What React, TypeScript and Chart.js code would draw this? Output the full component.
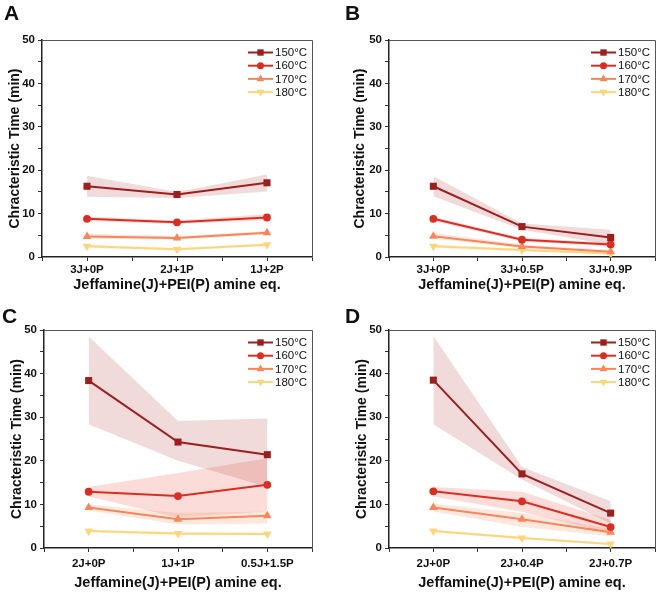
import React, { useEffect, useRef } from 'react';
import { Chart, registerables } from 'chart.js';
import { drawPoint } from 'chart.js/helpers';
Chart.register(...registerables);

const FONT = '"Liberation Sans", Arial, sans-serif';
const SERIES_LABELS = ['150°C', '160°C', '170°C', '180°C'];
const SERIES_COLORS = ['#9c1f1f', '#dc2d22', '#f7865a', '#fdd67c'];
const BAND_COLORS = ['rgba(170,50,50,0.18)', 'rgba(235,80,60,0.2)', 'rgba(250,140,90,0.2)', 'rgba(253,210,110,0.28)'];
const POINT_STYLES = ['rect', 'circle', 'triangle', 'triangle'];
const POINT_RADII = [5, 3.9, 5, 5];
const POINT_ROTATIONS = [0, 0, 0, 180];
const Y_TITLE = 'Chracteristic Time (min)';
const X_TITLE = 'Jeffamine(J)+PEI(P) amine eq.';

// Panel A
const A_CATEGORIES = ['3J+0P', '2J+1P', '1J+2P'];
const A_150 = [16.3, 14.4, 17.1];
const A_150_HI = [18.7, 15.0, 19.0];
const A_150_LO = [13.9, 13.6, 15.1];
const A_160 = [8.8, 8.0, 9.1];
const A_160_HI = [9.3, 8.4, 9.9];
const A_160_LO = [8.3, 7.6, 8.5];
const A_170 = [4.7, 4.4, 5.6];
const A_170_HI = [5.4, 4.8, 6.0];
const A_170_LO = [4.2, 4.0, 5.2];
const A_180 = [2.5, 1.8, 2.8];
const A_180_HI = [2.9, 2.1, 3.1];
const A_180_LO = [2.1, 1.5, 2.5];

// Panel B
const B_CATEGORIES = ['3J+0P', '3J+0.5P', '3J+0.9P'];
const B_150 = [16.3, 7.0, 4.5];
const B_150_HI = [18.6, 7.7, 6.3];
const B_150_LO = [14.0, 6.3, 2.8];
const B_160 = [8.8, 4.0, 2.9];
const B_160_HI = [9.3, 4.4, 3.3];
const B_160_LO = [8.3, 3.6, 2.4];
const B_170 = [4.8, 2.4, 1.2];
const B_170_HI = [5.6, 2.9, 1.6];
const B_170_LO = [4.2, 2.0, 0.8];
const B_180 = [2.5, 1.6, 0.8];
const B_180_HI = [2.9, 1.9, 1.0];
const B_180_LO = [2.1, 1.3, 0.6];

// Panel C
const C_CATEGORIES = ['2J+0P', '1J+1P', '0.5J+1.5P'];
const C_150 = [38.4, 24.3, 21.4];
const C_150_HI = [48.5, 29.1, 29.7];
const C_150_LO = [28.4, 20.0, 14.0];
const C_160 = [12.9, 11.9, 14.5];
const C_160_HI = [14.0, 17.2, 20.6];
const C_160_LO = [11.8, 7.0, 8.4];
const C_170 = [9.3, 6.6, 7.4];
const C_170_HI = [10.0, 8.0, 8.4];
const C_170_LO = [8.6, 5.4, 5.6];
const C_180 = [3.9, 3.3, 3.2];
const C_180_HI = [4.2, 3.6, 3.5];
const C_180_LO = [3.6, 3.0, 2.9];

// Panel D
const D_CATEGORIES = ['2J+0P', '2J+0.4P', '2J+0.7P'];
const D_150 = [38.5, 17.0, 8.0];
const D_150_HI = [48.6, 18.6, 10.7];
const D_150_LO = [28.4, 15.7, 5.6];
const D_160 = [13.0, 10.7, 4.8];
const D_160_HI = [14.0, 12.9, 6.4];
const D_160_LO = [11.8, 8.3, 3.3];
const D_170 = [9.3, 6.6, 3.6];
const D_170_HI = [10.2, 8.0, 4.4];
const D_170_LO = [8.4, 4.8, 2.7];
const D_180 = [3.9, 2.3, 0.9];
const D_180_HI = [4.2, 2.6, 1.1];
const D_180_LO = [3.6, 2.0, 0.7];

type Series = { mean: number[]; hi: number[]; lo: number[] };

const PANELS = [
  {
    letter: 'A', cats: A_CATEGORIES,
    series: [
      { mean: A_150, hi: A_150_HI, lo: A_150_LO },
      { mean: A_160, hi: A_160_HI, lo: A_160_LO },
      { mean: A_170, hi: A_170_HI, lo: A_170_LO },
      { mean: A_180, hi: A_180_HI, lo: A_180_LO },
    ],
    box: { left: 0, top: 0, width: 330, height: 296 },
    area: { l: 42, t: 40, r: 312, b: 257 },
    yTitleX: 15, xTitleY: 285, xTickPad: 2, letterPos: { left: 4, top: 2 },
  },
  {
    letter: 'B', cats: B_CATEGORIES,
    series: [
      { mean: B_150, hi: B_150_HI, lo: B_150_LO },
      { mean: B_160, hi: B_160_HI, lo: B_160_LO },
      { mean: B_170, hi: B_170_HI, lo: B_170_LO },
      { mean: B_180, hi: B_180_HI, lo: B_180_LO },
    ],
    box: { left: 330, top: 0, width: 331, height: 296 },
    area: { l: 389, t: 40, r: 655, b: 257 },
    yTitleX: 360, xTitleY: 285, xTickPad: 2, letterPos: { left: 345, top: 2 },
  },
  {
    letter: 'C', cats: C_CATEGORIES,
    series: [
      { mean: C_150, hi: C_150_HI, lo: C_150_LO },
      { mean: C_160, hi: C_160_HI, lo: C_160_LO },
      { mean: C_170, hi: C_170_HI, lo: C_170_LO },
      { mean: C_180, hi: C_180_HI, lo: C_180_LO },
    ],
    box: { left: 0, top: 296, width: 330, height: 296 },
    area: { l: 44, t: 330, r: 312, b: 548 },
    yTitleX: 17, xTitleY: 583, xTickPad: 5, letterPos: { left: 2, top: 305 },
  },
  {
    letter: 'D', cats: D_CATEGORIES,
    series: [
      { mean: D_150, hi: D_150_HI, lo: D_150_LO },
      { mean: D_160, hi: D_160_HI, lo: D_160_LO },
      { mean: D_170, hi: D_170_HI, lo: D_170_LO },
      { mean: D_180, hi: D_180_HI, lo: D_180_LO },
    ],
    box: { left: 330, top: 296, width: 331, height: 296 },
    area: { l: 389, t: 330, r: 655, b: 548 },
    yTitleX: 362, xTitleY: 583, xTickPad: 5, letterPos: { left: 345, top: 305 },
  },
];

const framePlugin = {
  id: 'frame',
  afterDraw(chart: any) {
    const { ctx, chartArea: a } = chart;
    ctx.save();
    ctx.strokeStyle = '#555';
    ctx.lineWidth = 1;
    ctx.beginPath();
    ctx.moveTo(a.left, a.top + 0.5);
    ctx.lineTo(a.right + 0.5, a.top + 0.5);
    ctx.lineTo(a.right + 0.5, a.bottom);
    ctx.stroke();
    ctx.restore();
  },
};

const legendPlugin = {
  id: 'innerLegend',
  afterDraw(chart: any) {
    const { ctx, chartArea: a } = chart;
    ctx.save();
    SERIES_LABELS.forEach((label, i) => {
      const y = a.top + 12.5 + i * 13.2;
      const x0 = a.right - 64;
      const x1 = a.right - 39;
      ctx.strokeStyle = SERIES_COLORS[i];
      ctx.lineWidth = 2;
      ctx.beginPath();
      ctx.moveTo(x0, y);
      ctx.lineTo(x1, y);
      ctx.stroke();
      ctx.fillStyle = SERIES_COLORS[i];
      drawPoint(ctx, {
        pointStyle: POINT_STYLES[i],
        radius: POINT_RADII[i] * 0.9,
        rotation: POINT_ROTATIONS[i],
        borderWidth: 0,
      } as any, (x0 + x1) / 2, y);
      ctx.fillStyle = '#111';
      ctx.font = `11.5px ${FONT}`;
      ctx.textAlign = 'left';
      ctx.textBaseline = 'middle';
      ctx.fillText(label, x1 + 2, y + 0.5);
    });
    ctx.restore();
  },
};

function Panel({ p }: { p: any }) {
  const ref = useRef<HTMLCanvasElement>(null);
  useEffect(() => {
    const canvas = ref.current!;
    const datasets: any[] = [];
    p.series.forEach((s: Series, i: number) => {
      datasets.push({
        label: SERIES_LABELS[i] + ' hi',
        data: s.hi.map((y, k) => ({ x: k, y })),
        borderWidth: 0,
        pointRadius: 0,
        fill: '+1',
        backgroundColor: BAND_COLORS[i],
        order: 10 + i,
      });
      datasets.push({
        label: SERIES_LABELS[i] + ' lo',
        data: s.lo.map((y, k) => ({ x: k, y })),
        borderWidth: 0,
        pointRadius: 0,
        fill: false,
        order: 10 + i,
      });
    });
    p.series.forEach((s: Series, i: number) => {
      datasets.push({
        label: SERIES_LABELS[i],
        data: s.mean.map((y, k) => ({ x: k, y })),
        borderColor: SERIES_COLORS[i],
        backgroundColor: SERIES_COLORS[i],
        borderWidth: 2,
        pointStyle: POINT_STYLES[i],
        pointRadius: POINT_RADII[i],
        pointRotation: POINT_ROTATIONS[i],
        pointBorderWidth: 0,
        fill: false,
        order: i,
      });
    });
    const { box, area } = p;
    const chart = new Chart(canvas, {
      type: 'line',
      data: { datasets },
      plugins: [framePlugin, legendPlugin],
      options: {
        responsive: false,
        animation: false,
        devicePixelRatio: 1,
        layout: {
          padding: {
            left: 0,
            top: area.t - box.top,
            right: box.left + box.width - area.r,
            bottom: 0,
          },
        },
        plugins: { legend: { display: false }, tooltip: { enabled: false } },
        scales: {
          x: {
            type: 'linear',
            min: -0.5,
            max: 2.5,
            ticks: {
              stepSize: 0.5,
              autoSkip: false,
              maxRotation: 0,
              padding: p.xTickPad,
              color: '#111',
              font: { family: FONT, size: 11.5, weight: 'bold' },
              callback: (v: any) => (Number.isInteger(v) ? p.cats[v] : ''),
            },
            grid: { drawOnChartArea: false, drawTicks: true, tickLength: 4, color: '#333' },
            border: { display: true, color: '#222', width: 1.5 },
            title: {
              display: true,
              text: X_TITLE,
              color: '#111',
              font: { family: FONT, size: 14.5, weight: 'bold' },
              padding: { top: 0, bottom: box.top + box.height - p.xTitleY - 8.7 },
            },
            afterFit: (s: any) => { s.height = box.top + box.height - area.b; },
          },
          y: {
            type: 'linear',
            min: 0,
            max: 50,
            ticks: {
              stepSize: 5,
              autoSkip: false,
              padding: 3,
              color: '#111',
              font: { family: FONT, size: 11.5, weight: 'bold' },
              callback: (v: any) => (v % 10 === 0 ? String(v) : ''),
            },
            grid: { drawOnChartArea: false, drawTicks: true, tickLength: 4, color: '#333' },
            border: { display: true, color: '#222', width: 1.5 },
            title: {
              display: true,
              text: Y_TITLE,
              color: '#111',
              font: { family: FONT, size: 14, weight: 'bold' },
              padding: { top: p.yTitleX - box.left - 8.4, bottom: 0 },
            },
            afterFit: (s: any) => { s.width = area.l - box.left; },
          },
        },
      } as any,
    });
    return () => chart.destroy();
  }, [p]);
  const { box } = p;
  return (
    <>
      <canvas
        ref={ref}
        width={box.width}
        height={box.height}
        style={{ position: 'absolute', left: box.left, top: box.top, width: box.width, height: box.height }}
      />
      <div
        style={{
          position: 'absolute',
          left: p.letterPos.left,
          top: p.letterPos.top,
          font: `bold 21px ${FONT}`,
          lineHeight: 1,
          color: '#111',
        }}
      >
        {p.letter}
      </div>
    </>
  );
}

export default function App() {
  return (
    <div style={{ position: 'fixed', left: 0, top: 0, width: 661, height: 592, background: '#fff' }}>
      {PANELS.map((p) => (
        <Panel key={p.letter} p={p} />
      ))}
    </div>
  );
}
